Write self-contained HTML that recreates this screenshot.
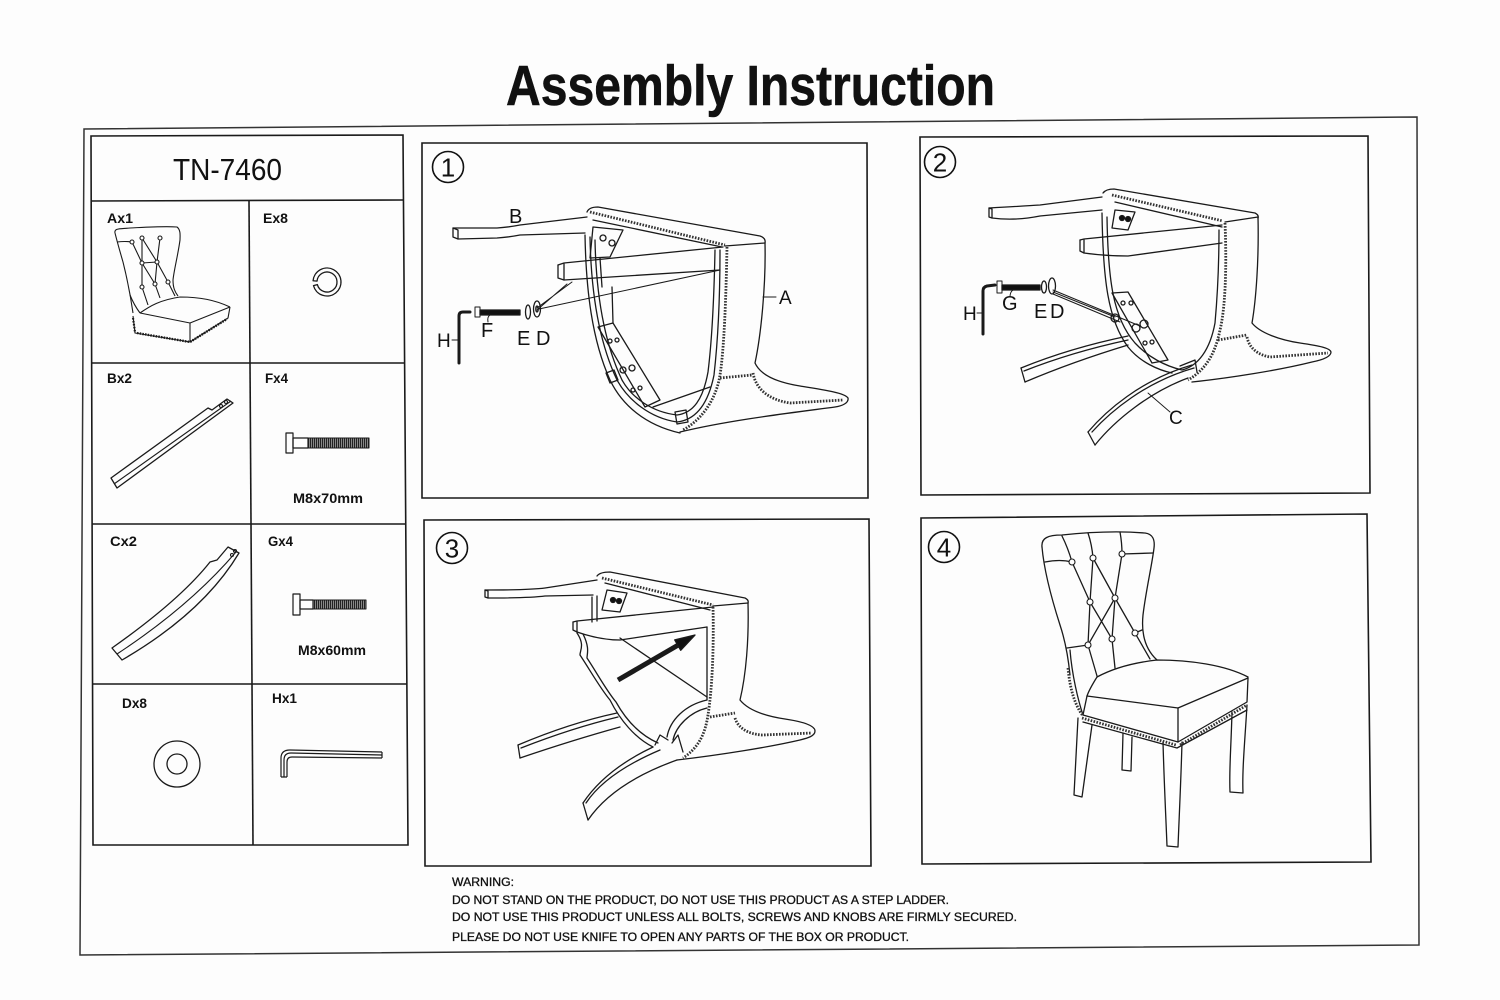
<!DOCTYPE html>
<html><head><meta charset="utf-8">
<style>
html,body{margin:0;padding:0;background:#fff;}
svg{display:block;}
</style></head>
<body>
<svg width="1500" height="1000" viewBox="0 0 1500 1000" xmlns="http://www.w3.org/2000/svg" font-family="'Liberation Sans', Arial, sans-serif">
<defs>
<pattern id="thr" width="2" height="10" patternUnits="userSpaceOnUse">
<rect width="2" height="10" fill="#888"/><rect width="1" height="10" fill="#222"/>
</pattern>
</defs>
<rect width="1500" height="1000" fill="#fdfdfd"/>

<!-- Title -->
<text x="506" y="105" font-size="57" font-weight="bold" fill="#111" stroke="#111" stroke-width="0.6" textLength="489" lengthAdjust="spacingAndGlyphs">Assembly Instruction</text>

<!-- Outer frame -->
<path d="M84,129 L1417,117 L1419,945 L80,955 Z" fill="none" stroke="#333" stroke-width="1.5"/>

<!-- Parts table -->
<g fill="none" stroke="#1a1a1a" stroke-width="1.6">
<path d="M91,136 L403,135 L408,845 L93,845 Z"/>
<line x1="91" y1="201" x2="404" y2="200"/>
<line x1="92" y1="363" x2="405" y2="363"/>
<line x1="92" y1="524" x2="406" y2="524"/>
<line x1="93" y1="684" x2="407" y2="684"/>
<line x1="249" y1="201" x2="253" y2="845"/>
</g>
<text x="173" y="180" font-size="31" fill="#111" textLength="109" lengthAdjust="spacingAndGlyphs">TN-7460</text>
<g font-size="14" font-weight="bold" fill="#111">
<text x="107" y="223" textLength="26" lengthAdjust="spacingAndGlyphs">Ax1</text>
<text x="263" y="223" textLength="25" lengthAdjust="spacingAndGlyphs">Ex8</text>
<text x="107" y="383" textLength="25" lengthAdjust="spacingAndGlyphs">Bx2</text>
<text x="265" y="383" textLength="23" lengthAdjust="spacingAndGlyphs">Fx4</text>
<text x="293" y="503" textLength="70" lengthAdjust="spacingAndGlyphs">M8x70mm</text>
<text x="110" y="546" textLength="27" lengthAdjust="spacingAndGlyphs">Cx2</text>
<text x="268" y="546" textLength="25" lengthAdjust="spacingAndGlyphs">Gx4</text>
<text x="298" y="655" textLength="68" lengthAdjust="spacingAndGlyphs">M8x60mm</text>
<text x="122" y="708" textLength="25" lengthAdjust="spacingAndGlyphs">Dx8</text>
<text x="272" y="703" textLength="25" lengthAdjust="spacingAndGlyphs">Hx1</text>
</g>

<!-- Part icons -->
<g fill="none" stroke="#1a1a1a" stroke-width="1.1" stroke-linejoin="round">
<path d="M115,233 C114,228 120,229 130,228 C150,227 165,226 177,227 C181,230 180,236 180,240 C178,255 174,270 173,280 C173,288 175,292 178,296"/>
<path d="M115,233 C118,245 121,255 123,262 C127,278 130,292 133,313"/>
<path d="M117,242 Q125,241 132,242"/>
<path d="M140,313 C150,306 160,300 180,297 C200,297 215,300 230,307"/>
<path d="M140,313 L190,323 L230,307"/>
<path d="M133,316 L135,333 L190,342 L228,318 L230,307"/>
<path d="M190,323 L190,342"/>
<path d="M130,295 Q134,305 140,313"/>
<path d="M132,242 L142,263 L142,287 M142,238 L142,263 L157,262 M142,238 L157,262 M160,238 L157,262 L168,282 M157,262 L155,284 M142,263 L155,284 M142,287 L148,305 M155,284 L160,298 M168,282 L175,296"/>
<path d="M137,333 L190,342 L227,319" stroke-width="2.4" stroke-dasharray="1.5 1.2"/>
<path d="M133,318 L135,332" stroke-width="2.2" stroke-dasharray="1.5 1.5"/>
<g fill="#fff"><circle cx="132" cy="242" r="2"/><circle cx="142" cy="238" r="2"/><circle cx="160" cy="238" r="2"/><circle cx="142" cy="263" r="2"/><circle cx="157" cy="262" r="2"/><circle cx="142" cy="287" r="2"/><circle cx="155" cy="284" r="2"/><circle cx="168" cy="282" r="2"/></g>
<path d="M313.05,280.78 A14,14 0 1 1 313.48,285.62 L317.34,284.59 A10,10 0 1 0 317.04,281.13 Z" stroke-width="1.3"/>
<path d="M111,478 L208,408 L212,410 L227,399 L233,403 L117,488 Z" stroke-width="1.3"/>
<path d="M114,484 L231,401"/>
<circle cx="221" cy="406" r="1.5"/><circle cx="226" cy="402" r="1.5"/>
<rect x="286" y="433" width="7" height="20" stroke-width="1.2"/>
<rect x="293" y="438" width="15" height="10" stroke-width="1.2"/>
<rect x="308" y="438" width="61" height="10" fill="url(#thr)" stroke-width="1"/>
<path d="M112,648 Q180,600 210,562 L217,560 L228,547 L239,553 Q203,613 122,660 Z" stroke-width="1.3"/>
<path d="M117,654 Q190,606 236,552"/>
<circle cx="232" cy="555" r="1.5"/><circle cx="235" cy="551" r="1.5"/>
<rect x="293" y="594" width="7" height="21" stroke-width="1.2"/>
<rect x="300" y="600" width="13" height="9" stroke-width="1.2"/>
<rect x="313" y="600" width="53" height="9" fill="url(#thr)" stroke-width="1"/>
<circle cx="177" cy="764" r="23" stroke-width="1.3"/>
<circle cx="177" cy="764" r="10" stroke-width="1.3"/>
<path d="M382,752 L290,750 Q281,750 281,758 L281,777" stroke-width="1.2"/>
<path d="M382,755 L291,753 Q284,753 284,760 L284,777" stroke-width="1.2"/>
<path d="M382,758 L292,757 Q287,757 287,762 L287,777" stroke-width="1.2"/>
<path d="M382,752 L382,758 M281,777 L287,777" stroke-width="1.2"/>
</g>

<!-- Panels frames -->
<g fill="none" stroke="#1a1a1a" stroke-width="1.6">
<path d="M422,143 L867,143 L868,498 L422,498 Z"/>
<path d="M920,137 L1368,136 L1370,493 L921,495 Z"/>
<path d="M424,520 L869,519 L871,866 L425,866 Z"/>
<path d="M921,518 L1367,514 L1371,862 L922,864 Z"/>
</g>

<!-- Circled numbers -->
<g fill="none" stroke="#111" stroke-width="1.6">
<circle cx="448" cy="167" r="15.5"/>
<circle cx="940" cy="162" r="15.5"/>
<circle cx="452" cy="548" r="15.5"/>
<circle cx="944" cy="547" r="15.5"/>
</g>
<g font-size="26" fill="#111" text-anchor="middle">
<text x="448" y="176.5">1</text>
<text x="940" y="171.5">2</text>
<text x="452" y="557.5">3</text>
<text x="944" y="556.5">4</text>
</g>

<!-- PANEL 1 -->
<g fill="none" stroke="#1a1a1a" stroke-width="1.3" stroke-linejoin="round" stroke-linecap="round">
<path d="M453,228 L458,230 L458,239 L453,237 Z"/>
<path d="M453,228 L497,228 Q510,227 520,225 L587,217"/>
<path d="M458,239 L497,238 Q510,237 520,235 L585,233"/>
<path d="M587,212 Q589,207 598,207 L760,236 Q766,238 765,243"/>
<path d="M593,220 L722,247"/>
<path d="M725,246 L765,243"/>
<path d="M765,243 C766,285 761,335 755,363 C760,374 775,382 800,386 C825,390 845,393 848,398 C849,403 842,406 835,407 C790,413 730,420 680,432"/>
<path d="M585,235 C586,290 592,340 610,380 C622,405 645,425 680,433"/>
<path d="M590,237 C591,290 598,340 617,380 C628,400 650,418 677,422 C695,420 708,405 714,375 C718,340 720,300 720,250"/>
<path d="M595,240 C596,290 603,340 622,380 C632,398 652,412 677,415 C693,413 703,400 708,372 C712,340 714,300 715,250"/>
<path d="M558,265 L558,278 L564,280 L720,270"/>
<path d="M558,265 L564,263 L723,247"/>
<path d="M564,264 L564,280"/>
<path d="M593,227 L623,230 L610,257 L590,258 Z"/>
<circle cx="603" cy="238" r="3"/><circle cx="612" cy="243" r="3"/>
<path d="M600,258 L602,287 M612,287 L613,323"/>
<path d="M598,327 L613,323 L660,400 L645,407 Z"/>
<circle cx="610" cy="341" r="2"/><circle cx="617" cy="340" r="2"/><circle cx="623" cy="370" r="3"/><circle cx="632" cy="368" r="3"/><circle cx="633" cy="390" r="2"/><circle cx="640" cy="388" r="2"/>
<path d="M653,407 L710,387"/>
<path d="M606,373 L614,370 L618,380 L610,383 Z"/>
<path d="M675,412 L686,410 L688,422 L677,424 Z"/>
<path d="M537,308 L572,282 M537,310 L567,284 M539,309 L720,270" stroke-width="1"/>
<path d="M470,312 L463,312 Q459,312 459,316 L459,363" stroke-width="3"/>
<path d="M452,340 L459,340" stroke-width="1"/>
<rect x="475" y="307" width="5" height="10" stroke-width="1"/>
<rect x="480" y="310" width="40" height="5" fill="#111"/>
<path d="M488,322 Q487,317 490,315" stroke-width="1"/>
<ellipse cx="528" cy="312" rx="2.5" ry="7"/>
<ellipse cx="537" cy="309" rx="3.5" ry="8"/>
<ellipse cx="537" cy="309" rx="1.2" ry="3"/>
<path d="M763,297 L776,297" stroke-width="1"/>
</g>
<g fill="none" stroke="#333" stroke-width="2.8" stroke-dasharray="1.6 1.4">
<path d="M590,212 L725,245"/>
<path d="M727,247 C726,300 724,350 720,375 C717,395 705,418 683,430"/>
<path d="M753,373 C756,390 770,400 790,403 L843,400"/>
<path d="M720,378 L752,375"/>
</g>
<g font-size="20" fill="#111">
<text x="509" y="223">B</text>
<text x="779" y="304" font-size="19">A</text>
<text x="437" y="347" font-size="19">H</text>
<text x="481" y="337">F</text>
<text x="517" y="345">E</text>
<text x="536" y="345">D</text>
</g>

<!-- PANEL 2 -->
<g fill="none" stroke="#1a1a1a" stroke-width="1.3" stroke-linejoin="round" stroke-linecap="round">
<path d="M989,208 L992,209 L992,218 L989,217 Z"/>
<path d="M989,208 Q1025,206 1040,205 L1102,197"/>
<path d="M992,218 Q1015,221 1040,216 L1102,210"/>
<path d="M1103,193 Q1106,189 1114,189 L1255,213 Q1259,215 1258,218"/>
<path d="M1115,202 L1222,227"/>
<path d="M1225,222 L1258,217"/>
<path d="M1258,217 C1259,260 1256,300 1252,323 C1260,333 1280,340 1300,343 C1320,346 1330,348 1331,352 C1331,357 1322,360 1312,362 C1280,370 1230,378 1192,382"/>
<path d="M1102,213 C1103,280 1108,320 1128,347 C1140,362 1158,370 1172,373"/>
<path d="M1107,217 C1108,280 1113,318 1135,343 C1148,357 1165,366 1182,370 C1198,366 1210,350 1215,323 C1218,290 1219,260 1219,230"/>
<path d="M1080,240 L1080,251 L1084,253 Q1105,256 1128,256 L1222,243"/>
<path d="M1080,240 L1084,239 L1222,225"/>
<path d="M1084,240 L1084,253"/>
<path d="M1115,210 L1135,212 L1128,230 L1112,228 Z"/>
<circle cx="1122" cy="218" r="2.5" fill="#111"/><circle cx="1128" cy="219" r="2.5" fill="#111"/>
<path d="M1112,293 L1128,292 L1168,360 L1152,363 Z"/>
<circle cx="1123" cy="303" r="2"/><circle cx="1131" cy="303" r="2"/><circle cx="1145" cy="343" r="2"/><circle cx="1152" cy="342" r="2"/>
<circle cx="1115" cy="318" r="4"/><circle cx="1136" cy="328" r="4"/><circle cx="1144" cy="324" r="4"/>
<path d="M1021,368 Q1070,348 1128,336"/>
<path d="M1024,371 Q1072,352 1128,340"/>
<path d="M1025,382 Q1072,362 1128,345"/>
<path d="M1021,368 L1025,382"/>
<path d="M1088,432 C1105,412 1140,380 1192,365"/>
<path d="M1092,432 C1110,412 1145,382 1194,368"/>
<path d="M1095,445 C1115,420 1150,392 1188,378"/>
<path d="M1088,432 L1095,445"/>
<path d="M1180,366 L1195,360 L1197,372"/>
<path d="M1148,393 L1170,412" stroke-width="0.9"/>
<path d="M977,313 L983,313" stroke-width="1"/>
<path d="M995,285 L987,286 Q983,287 983,291 L983,334" stroke-width="3"/>
<rect x="997" y="281" width="5" height="12" stroke-width="1"/>
<rect x="1002" y="285" width="38" height="5" fill="#111"/>
<path d="M1010,297 Q1010,292 1013,290" stroke-width="1"/>
<ellipse cx="1044" cy="287" rx="2.5" ry="6"/>
<ellipse cx="1052" cy="286" rx="3.5" ry="8"/>
<path d="M1053,292 L1115,317 M1053,290 L1140,326 M1053,294 L1120,322" stroke-width="1"/>
</g>
<g fill="none" stroke="#333" stroke-width="2.8" stroke-dasharray="1.6 1.4">
<path d="M1112,195 L1223,221"/>
<path d="M1225,223 C1227,270 1225,310 1220,330 C1215,355 1205,370 1188,380"/>
<path d="M1247,337 C1249,348 1258,355 1270,357 L1328,353"/>
<path d="M1218,340 L1247,335"/>
</g>
<g font-size="20" fill="#111">
<text x="963" y="320" font-size="19">H</text>
<text x="1002" y="310">G</text>
<text x="1034" y="318">E</text>
<text x="1050" y="318">D</text>
<text x="1169" y="424" font-size="19">C</text>
</g>

<!-- PANEL 3 -->
<g fill="none" stroke="#1a1a1a" stroke-width="1.3" stroke-linejoin="round" stroke-linecap="round">
<path d="M485,590 L488,591 L488,598 L485,597 Z"/>
<path d="M485,590 Q530,590 545,588 L597,580"/>
<path d="M488,598 Q530,598 545,596 L593,595"/>
<path d="M597,576 Q600,572 610,572 L745,598 Q749,600 748,603"/>
<path d="M605,583 L710,610"/>
<path d="M713,606 L748,603"/>
<path d="M748,603 C749,640 746,675 740,700 C748,710 765,716 785,719 C805,722 815,726 815,731 C815,736 808,738 800,740 C770,747 720,755 677,760"/>
<path d="M573,622 L573,630 L577,632 Q600,640 620,640 L707,627"/>
<path d="M573,622 L577,621 L713,607"/>
<path d="M577,622 L577,632"/>
<path d="M607,590 L627,593 L620,612 L602,610 Z"/>
<circle cx="613" cy="600" r="2.5" fill="#111"/><circle cx="619" cy="601" r="2.5" fill="#111"/>
<path d="M592,597 L592,622 M597,596 L597,621"/>
<path d="M577,633 C585,645 580,650 580,655 C590,670 600,688 610,700 C620,720 635,738 653,747"/>
<path d="M583,634 C590,648 587,654 587,658 C597,673 606,690 616,702 C626,720 640,735 658,743"/>
<path d="M620,638 L707,697"/>
<path d="M707,627 L707,700"/>
<path d="M667,737 C670,720 685,705 707,700"/>
<path d="M673,740 C676,726 690,712 707,708"/>
<path d="M518,745 Q570,723 617,713"/>
<path d="M521,748 Q572,728 618,717"/>
<path d="M520,758 Q573,740 620,727"/>
<path d="M518,745 L520,758"/>
<path d="M583,803 C595,785 615,765 653,747"/>
<path d="M586,803 C598,785 620,767 660,750"/>
<path d="M588,820 C605,795 635,775 677,760"/>
<path d="M583,803 L588,820"/>
<path d="M655,745 L660,735 L668,740 M672,743 L678,735 L683,752"/>
<path d="M618,680 L680,644" stroke-width="5" stroke-linecap="butt"/>
<path d="M695,635 L680.7,650.3 L674.7,639.9 Z" fill="#111"/>
</g>
<g fill="none" stroke="#333" stroke-width="2.8" stroke-dasharray="1.6 1.4">
<path d="M602,578 L713,605"/>
<path d="M713,607 C714,650 712,690 708,715 C705,735 698,748 683,758"/>
<path d="M735,718 C738,728 748,734 762,735 L812,733"/>
<path d="M710,717 L735,713"/>
</g>

<!-- PANEL 4 -->
<g fill="#fff" stroke="#1a1a1a" stroke-width="1.3" stroke-linejoin="round" stroke-linecap="round">
<path d="M1078,718 L1074,795 L1082,797 L1092,725"/>
<path d="M1123,733 L1122,770 L1131,771 L1132,737"/>
<path d="M1232,712 C1231,750 1229,770 1230,792 L1243,793 C1242,770 1245,740 1247,705"/>
<path d="M1163,742 C1164,780 1166,820 1167,846 L1178,847 C1179,820 1181,780 1182,742"/>
</g>
<g fill="none" stroke="#1a1a1a" stroke-width="1.3" stroke-linejoin="round" stroke-linecap="round">
<path d="M1042,547 C1041,538 1048,535 1062,535 C1090,532 1120,531 1145,533 C1153,534 1155,540 1154,548 C1152,565 1146,590 1143,615 C1141,635 1146,650 1157,660"/>
<path d="M1042,547 C1044,570 1052,600 1060,625 C1065,640 1068,655 1070,675"/>
<path d="M1045,562 Q1060,559 1072,562"/>
<path d="M1097,677 C1110,670 1130,663 1157,660 C1190,660 1225,665 1248,677"/>
<path d="M1097,677 C1092,685 1089,690 1087,696 L1178,708 L1248,678"/>
<path d="M1087,696 L1083,715 L1178,742 L1178,708"/>
<path d="M1178,742 L1247,702 L1248,678"/>
<path d="M1070,650 C1072,675 1078,700 1083,715"/>
<path d="M1083,722 L1177,748 L1247,710"/>
<path d="M1062,536 Q1068,548 1072,562 M1088,533 Q1092,545 1093,558 M1120,532 Q1122,543 1122,554"/>
<path d="M1122,554 L1153,553"/>
<path d="M1072,562 L1090,602 L1088,645 M1093,558 L1090,602 L1112,639 M1093,558 L1115,598 L1112,639 M1122,554 L1115,598 L1135,633 M1090,602 L1112,639 M1115,598 L1088,645"/>
<path d="M1067,648 L1088,645 M1135,633 L1142,630"/>
<path d="M1088,645 L1097,676 M1112,639 L1115,668 M1135,633 L1150,659"/>
</g>
<g fill="none" stroke="#333" stroke-width="2.8" stroke-dasharray="1.6 1.4">
<path d="M1068,668 C1070,690 1075,705 1083,716"/>
<path d="M1082,718 L1176,745"/>
<path d="M1180,745 L1247,705"/>
</g>
<g fill="#fff" stroke="#1a1a1a" stroke-width="1.1">
<circle cx="1072" cy="562" r="3"/><circle cx="1093" cy="558" r="3"/><circle cx="1122" cy="554" r="3"/>
<circle cx="1090" cy="602" r="3"/><circle cx="1115" cy="598" r="3"/>
<circle cx="1088" cy="645" r="3"/><circle cx="1112" cy="639" r="3"/><circle cx="1135" cy="633" r="3"/>
</g>

<!-- Warning -->
<g font-size="11.5" fill="#111" stroke="#111" stroke-width="0.3">
<text x="452" y="886" textLength="62" lengthAdjust="spacingAndGlyphs">WARNING:</text>
<text x="452" y="904" textLength="497" lengthAdjust="spacingAndGlyphs">DO NOT STAND ON THE PRODUCT, DO NOT USE THIS PRODUCT AS A STEP LADDER.</text>
<text x="452" y="921" textLength="565" lengthAdjust="spacingAndGlyphs">DO NOT USE THIS PRODUCT UNLESS ALL BOLTS, SCREWS AND KNOBS ARE FIRMLY SECURED.</text>
<text x="452" y="941" textLength="457" lengthAdjust="spacingAndGlyphs">PLEASE DO NOT USE KNIFE TO OPEN ANY PARTS OF THE BOX OR PRODUCT.</text>
</g>
</svg>
</body></html>
